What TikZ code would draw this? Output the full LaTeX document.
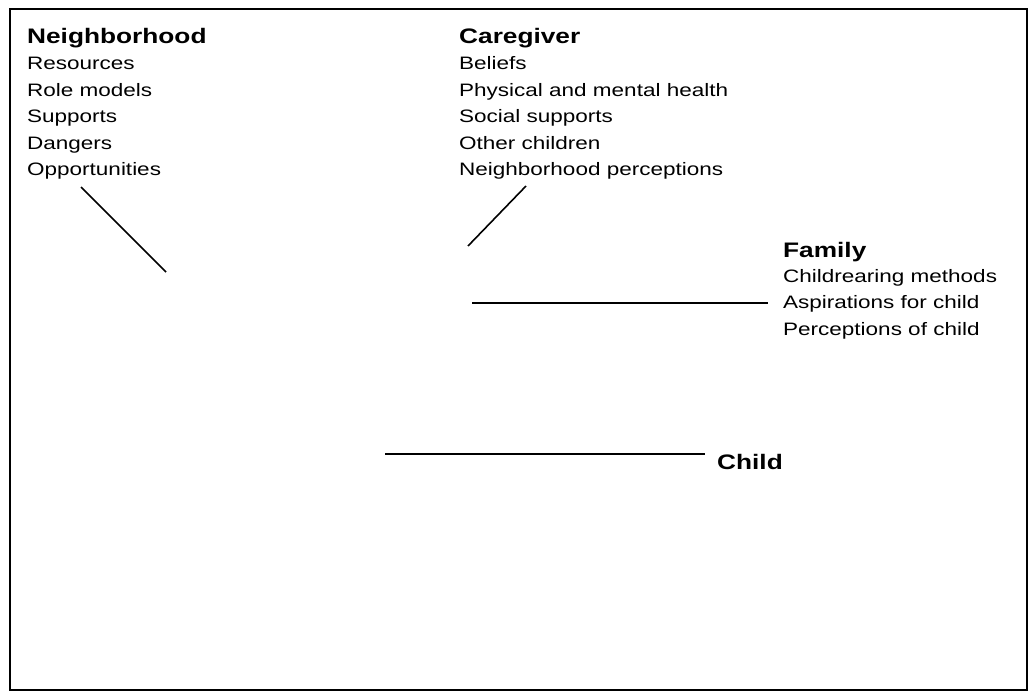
\documentclass[tikz,border=0pt]{standalone}
\usepackage{fontspec}
\setmainfont[FakeStretch=1.25]{Liberation Sans}
\begin{document}
\begin{tikzpicture}[x=1pt,y=-1pt,
  head/.style={anchor=base west,inner sep=0pt,font=\fontsize{21}{24}\selectfont\bfseries},
  item/.style={anchor=base west,inner sep=0pt,font=\fontsize{18}{21}\selectfont},
  conn/.style={line width=1.6pt,line cap=butt},
  frame/.style={line width=2pt}]
\useasboundingbox (0,0) rectangle (1031,691);
\draw[frame] (10,9) rectangle (1027,689.5);
\draw[line width=1.5pt] (1027,9) -- (1027,689.5);
% Neighborhood
\node[head] (nbh) at (27,43) {Neighborhood};
\node[item] (nb1) at (27,69.5) {Resources};
\node[item] (nb2) at (27,96) {Role models};
\node[item] (nb3) at (27,122.5) {Supports};
\node[item] (nb4) at (27,149) {Dangers};
\node[item] (nb5) at (27,175.5) {Opportunities};
% Caregiver
\node[head] (cgh) at (459,43) {Caregiver};
\node[item] (cg1) at (459,69.5) {Beliefs};
\node[item] (cg2) at (459,96) {Physical and mental health};
\node[item] (cg3) at (459,122.5) {Social supports};
\node[item] (cg4) at (459,149) {Other children};
\node[item] (cg5) at (459,175.5) {Neighborhood perceptions};
% Family
\node[head] (fmh) at (783,257) {Family};
\node[item] (fm1) at (783,282) {Childrearing methods};
\node[item] (fm2) at (783,308.5) {Aspirations for child};
\node[item] (fm3) at (783,335) {Perceptions of child};
% Child
\node[head] (ch) at (717,469) {Child};
% connector ends
\coordinate (a1) at (81,187);
\coordinate (a2) at (166,272);
\coordinate (b1) at (526,186);
\coordinate (b2) at (468,246);
\coordinate (c1) at (472,303);
\coordinate (c2) at (768,303);
\coordinate (d1) at (385,454);
\coordinate (d2) at (705,454);
\draw[conn] (a1) -- (a2);
\draw[conn] (b1) -- (b2);
\draw[conn] (c1) -- (c2);
\draw[conn] (d1) -- (d2);
\end{tikzpicture}
\end{document}
